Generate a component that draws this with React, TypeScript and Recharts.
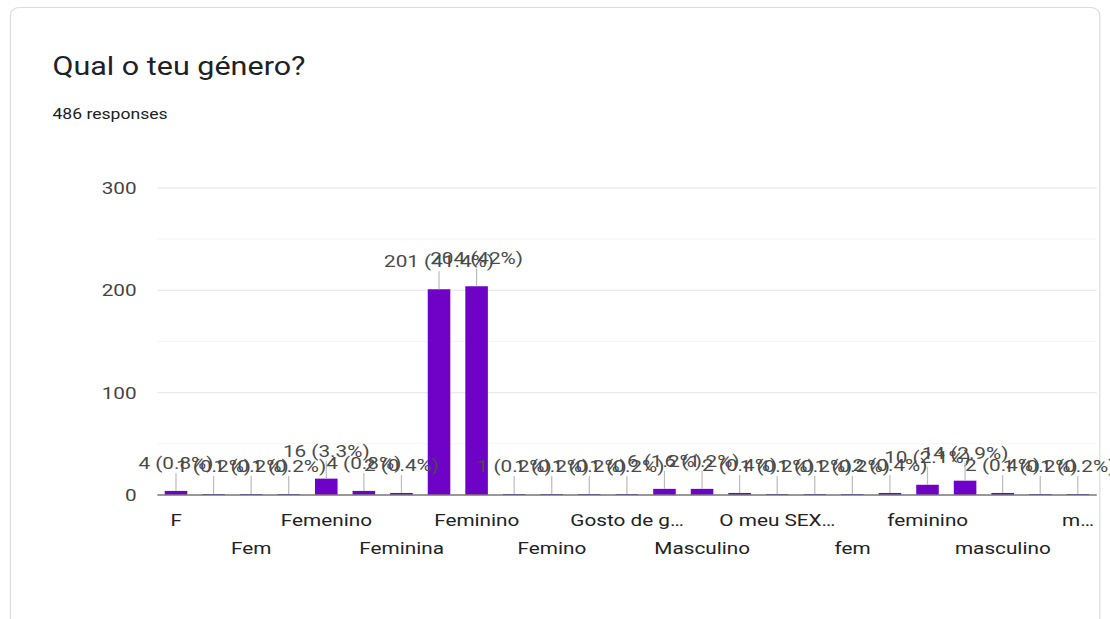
import { BarChart, Bar, XAxis, YAxis, CartesianGrid, LabelList } from 'recharts';

// answers to "Qual o teu género?" in the order the summary lists them
const categories = [
  'F', 'FEMININO', 'Fem', 'Fem.', 'Femenino', 'Femenino ', 'Feminina', 'Feminino ',
  'Feminino', 'Feminino.', 'Femino', 'Fenimino', 'Gosto de gatos', 'Homem', 'Masculino',
  'Menina', 'O meu SEXO é feminino', 'Rapariga', 'fem', 'femenino', 'feminino',
  'feminino ', 'masculino', 'menina', 'mulher cis',
];

const counts = [
  4, 1, 1, 1, 16, 4, 2, 201,
  204, 1, 1, 1, 1, 6, 6,
  2, 1, 1, 1, 2, 10,
  14, 2, 1, 1,
];

// only every other category gets a label, alternating between two rows
const tickLabels = [
  'F', '', 'Fem', '', 'Femenino', '', 'Feminina', '',
  'Feminino', '', 'Femino', '', 'Gosto de g…', '', 'Masculino',
  '', 'O meu SEX…', '', 'fem', '', 'feminino',
  '', 'masculino', '', 'm…',
];

const yTicks = [0, 50, 100, 150, 200, 250, 300];
const TOTAL = 486;

const data = categories.map((name, i) => ({ name, count: counts[i] }));

// the whole card is drawn narrow and then widened
const STRETCH = 1.22;
const BASE_W = 910;
const H = 619;
const PURPLE = '#6e02c6';

const pct = (v: number) => {
  const p = Math.round((v / TOTAL) * 1000) / 10;
  return `${p}%`;
};

const CategoryTick = (props: any) => {
  const { x, y, payload } = props;
  const i = payload.index;
  const label = tickLabels[i];
  if (!label) return null;
  const row = i % 4 === 0 ? 0 : 1;
  return (
    <text x={x} y={y + 31 + row * 28} textAnchor="middle" fontSize={17} fill="#222">
      {label}
    </text>
  );
};

const ValueTick = (props: any) => {
  const { x, y, payload } = props;
  if (payload.value % 100 !== 0) return null;
  return (
    <text x={x} y={y} dy="0.36em" textAnchor="end" fontSize={17} fill="#444">
      {payload.value}
    </text>
  );
};

const renderValueLabel = (props: any) => {
  const { x, y, width, value, index } = props;
  const cx = x + width / 2;
  const ty = y - 28;
  return (
    <g key={`lbl-${index}`}>
      <line x1={cx} x2={cx} y1={ty + 10} y2={y} stroke="#bcbcbc" />
      <text x={cx} y={ty} dy="0.36em" textAnchor="middle" fontSize={17} fill="#4a4a4a">
        {`${value} (${pct(value)})`}
      </text>
    </g>
  );
};

const gridLine = (props: any) => {
  const { x1, x2, y1, y2, index } = props;
  const minor = index % 2 === 1;
  return (
    <line key={`g-${index}`} x1={x1} x2={x2} y1={y1} y2={y2} stroke={minor ? '#f4f4f4' : '#e4e4e4'} />
  );
};

export default function App() {
  return (
    <div style={{ position: 'absolute', left: 0, top: 0, width: 1110, height: H, overflow: 'hidden', background: '#fff' }}>
      <div
        style={{
          position: 'absolute', left: 0, top: 0, width: BASE_W, height: H,
          transform: `scaleX(${STRETCH})`, transformOrigin: '0 0',
          fontFamily: 'Roboto, Arial, sans-serif',
        }}
      >
        <div
          style={{
            position: 'absolute', left: 8, top: 7, width: 894, height: 680,
            border: '1px solid #dadce0', borderRadius: 8, boxSizing: 'border-box',
          }}
        />
        <div style={{ position: 'absolute', left: 43, top: 53, fontSize: 25, lineHeight: '28px', color: '#202124' }}>
          Qual o teu género?
        </div>
        <div style={{ position: 'absolute', left: 43, top: 106, fontSize: 14.4, lineHeight: '17px', color: '#202124' }}>
          486 responses
        </div>
        <div style={{ position: 'absolute', left: 0, top: 0 }}>
          <BarChart
            width={BASE_W}
            height={H}
            data={data}
            margin={{ top: 188, right: 11, bottom: 64, left: 0 }}
            barSize={18.5}
          >
            <CartesianGrid vertical={false} horizontal={gridLine} />
            <XAxis
              dataKey="name"
              interval={0}
              height={60}
              tickSize={0}
              tickMargin={0}
              tickLine={false}
              axisLine={{ stroke: '#7a7a7a', strokeWidth: 1.5 }}
              tick={<CategoryTick />}
            />
            <YAxis
              domain={[0, 300]}
              ticks={yTicks}
              width={129}
              tickSize={0}
              tickMargin={17}
              axisLine={false}
              tickLine={false}
              tick={<ValueTick />}
            />
            <Bar dataKey="count" fill={PURPLE} isAnimationActive={false}>
              <LabelList dataKey="count" content={renderValueLabel} />
            </Bar>
          </BarChart>
        </div>
      </div>
    </div>
  );
}
